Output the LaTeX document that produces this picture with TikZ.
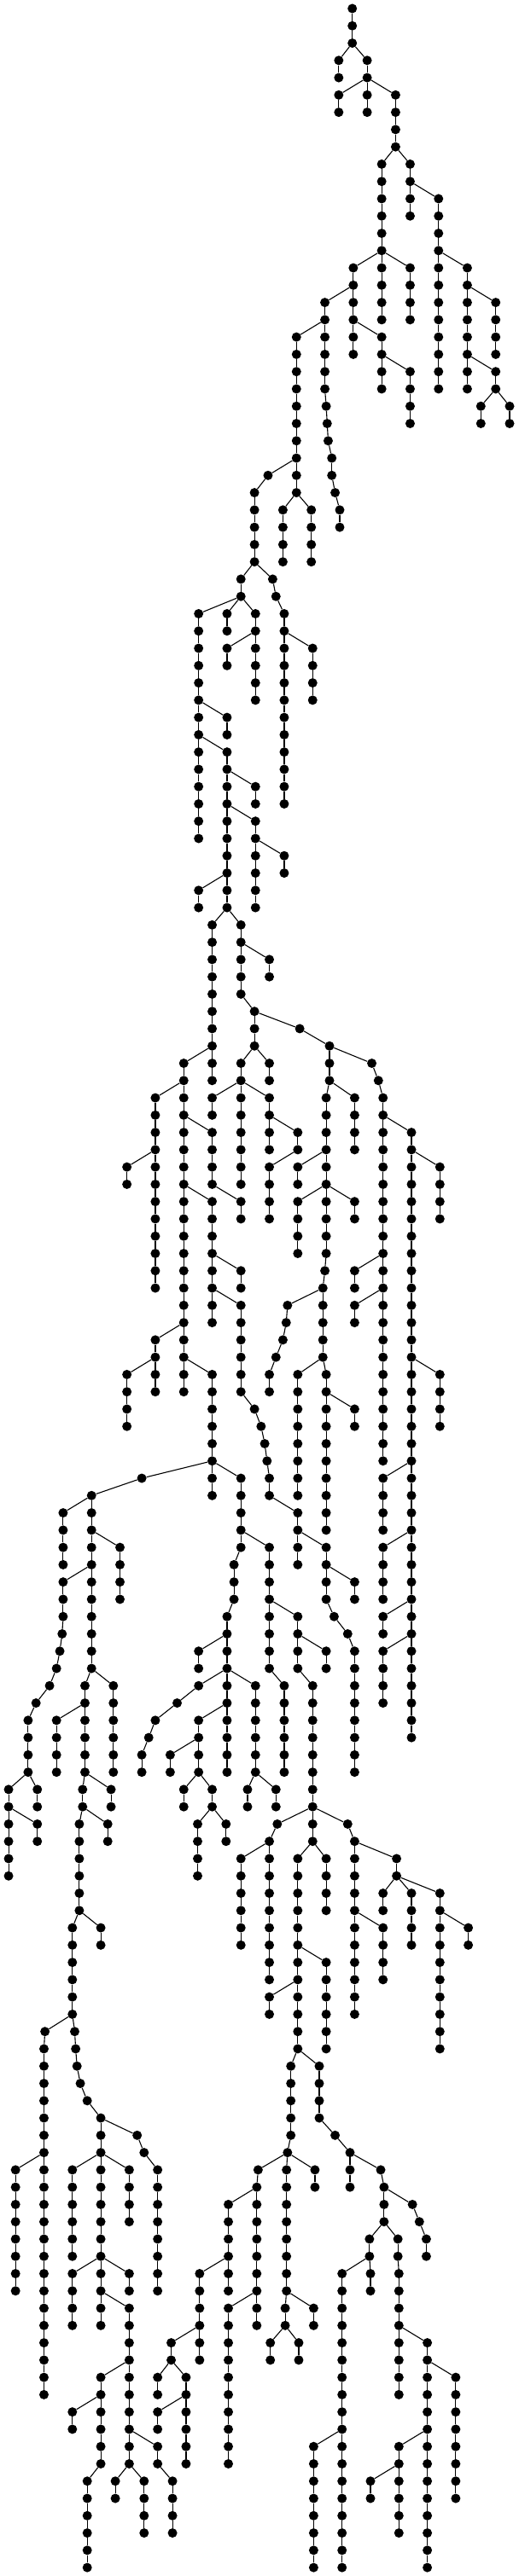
\documentclass[tikz,border=0pt]{standalone}
\usepackage{tikz}
\tikzset{
  treenode/.style={circle,fill=black,inner sep=0pt,minimum size=11pt},
  treeedge/.style={draw=black,line width=1.1pt}
}
\begin{document}
\begin{tikzpicture}[x=0.38715pt,y=-20.27pt]
  \useasboundingbox (0,-0.4933) rectangle (1567.9,148.49);
  \node[treenode] (n1066-0) at (1066,0) {}; % Root
  % parent column / parent level / column of the branch / last level of the branch
  \foreach \px/\lv/\cx/\last in {
    1066/0/1066/2, 1066/2/1025/4, 1066/2/1111/4, 1111/4/1025/6, 1111/4/1111/6, 1111/4/1197/8,
    1197/8/1155/14, 1197/8/1241/12, 1241/10/1327/22, 1327/14/1414/22, 1414/16/1500/20, 1414/20/1500/22,
    1500/22/1455/24, 1500/22/1542/24, 1155/14/1069/20, 1155/14/1155/18, 1155/14/1241/18, 1069/18/1155/22,
    1155/20/1241/24, 1069/16/983/22, 983/22/987/23, 987/23/990/24, 990/24/993/25, 993/25/1004/27,
    1004/27/1014/28, 1014/28/1028/30, 983/18/897/28, 897/26/811/27, 811/27/770/32, 897/28/856/32,
    897/28/942/32, 770/32/729/34, 770/32/825/33, 825/33/835/34, 835/34/860/46, 860/36/946/40,
    729/34/601/48, 729/34/687/36, 729/34/773/40, 773/36/687/38, 601/40/687/42, 601/42/687/52,
    687/44/773/46, 687/46/773/52, 773/48/860/50, 687/50/601/52, 687/52/642/60, 687/52/729/57,
    729/54/815/56, 729/57/770/60, 770/58/907/59, 907/59/997/62, 997/60/1125/61, 1125/61/1145/62,
    1145/62/1159/84, 1159/64/1245/100, 1245/66/1331/70, 1245/78/1331/82, 1245/84/1159/88, 1245/88/1159/92,
    1245/92/1159/94, 1245/94/1159/98, 1159/72/1073/74, 1159/74/1073/76, 997/62/987/72, 997/62/1073/66,
    987/66/901/68, 987/68/901/72, 987/68/1073/70, 987/72/983/73, 983/73/977/78, 977/74/870/75,
    870/75/866/76, 866/76/856/77, 856/77/835/78, 835/78/815/80, 977/78/901/86, 977/78/987/88,
    987/80/1073/82, 770/60/729/62, 770/60/815/62, 729/62/642/64, 729/62/729/68, 729/62/815/64,
    815/64/815/66, 815/64/901/66, 901/66/815/70, 642/60/556/80, 642/60/642/62, 556/62/470/74,
    470/66/384/68, 556/64/642/68, 642/68/729/70, 556/68/642/76, 642/72/729/74, 642/74/729/80,
    729/80/770/81, 770/81/790/82, 790/82/801/83, 801/83/808/84, 808/84/815/86, 815/86/901/90,
    901/88/987/92, 987/90/1073/92, 987/92/1011/93, 1011/93/1052/94, 1052/94/1073/102, 556/76/470/80,
    470/78/384/82, 556/78/642/86, 642/84/729/89, 729/89/708/92, 708/92/687/96, 687/94/601/96,
    687/96/601/97, 601/97/536/98, 536/98/470/99, 470/99/450/100, 450/100/429/102, 687/96/687/102,
    687/98/601/102, 601/100/515/102, 601/102/556/104, 601/102/642/104, 642/104/598/108, 642/104/684/106,
    687/96/773/102, 773/102/749/104, 773/102/835/104, 729/88/815/96, 815/92/901/96, 901/94/987/96,
    901/96/946/104, 815/96/860/102, 946/104/839/105, 839/105/815/114, 815/106/729/112, 946/104/946/106,
    946/106/901/118, 946/106/987/110, 901/112/987/118, 901/114/815/116, 901/118/880/123, 880/123/870/124,
    870/124/781/125, 781/125/777/132, 777/126/691/132, 691/130/604/136, 604/134/518/136, 518/136/477/138,
    518/136/563/142, 563/138/477/140, 777/132/691/142, 777/132/777/134, 870/124/867/132, 867/132/863/134,
    863/134/818/136, 863/134/904/136, 867/132/949/134, 870/124/953/126, 901/118/966/122, 966/122/1014/123,
    1014/123/1059/124, 1059/124/1059/126, 1059/124/1152/125, 1152/125/1162/128, 1162/126/1248/127,
    1248/127/1269/128, 1269/128/1290/130, 1162/128/1118/130, 1118/130/1035/148, 1035/140/949/148,
    1118/130/1121/132, 1162/128/1204/130, 1204/130/1207/138, 1207/134/1293/148, 1293/136/1379/144,
    1293/140/1207/146, 1207/142/1121/144, 946/104/1052/105, 1052/105/1073/116, 1073/106/1200/108,
    1200/108/1159/110, 1200/108/1245/112, 1200/108/1331/118, 1331/110/1417/112, 1073/110/1159/114,
    642/84/429/85, 429/85/277/96, 277/86/191/90, 277/88/363/92, 277/90/191/93, 191/93/188/94,
    188/94/181/95, 181/95/171/96, 171/96/150/97, 150/97/109/98, 109/98/85/102, 85/102/26/108,
    85/102/113/104, 26/104/113/106, 277/96/257/102, 277/96/343/102, 257/98/171/102, 257/102/250/104,
    257/102/336/104, 250/104/240/110, 250/104/326/106, 240/110/219/116, 240/110/305/112, 219/116/136/117,
    136/117/133/138, 133/124/47/132, 219/116/226/117, 226/117/229/118, 229/118/233/119, 233/119/243/120,
    243/120/264/121, 264/121/305/124, 305/122/415/123, 415/123/436/124, 436/124/477/132, 305/124/219/130,
    305/124/305/130, 305/124/391/128, 305/130/219/134, 305/130/305/134, 305/130/391/132, 305/132/391/142,
    391/136/305/142, 305/138/219/140, 305/142/264/148, 391/140/477/142, 477/142/522/146, 391/142/349/144,
    391/142/436/146}{
    \pgfmathtruncatemacro{\first}{\lv+1}
    \foreach \k [remember=\k as \before (initially \first)] in {\first,...,\last}{
      \node[treenode] (n\cx-\k) at (\cx,\k) {};
      \ifnum\k>\first
        \draw[treeedge] (n\cx-\before) -- (n\cx-\k);
      \else
        \draw[treeedge] (n\px-\lv) -- (n\cx-\k);
      \fi
    }
  }
\end{tikzpicture}
\end{document}
